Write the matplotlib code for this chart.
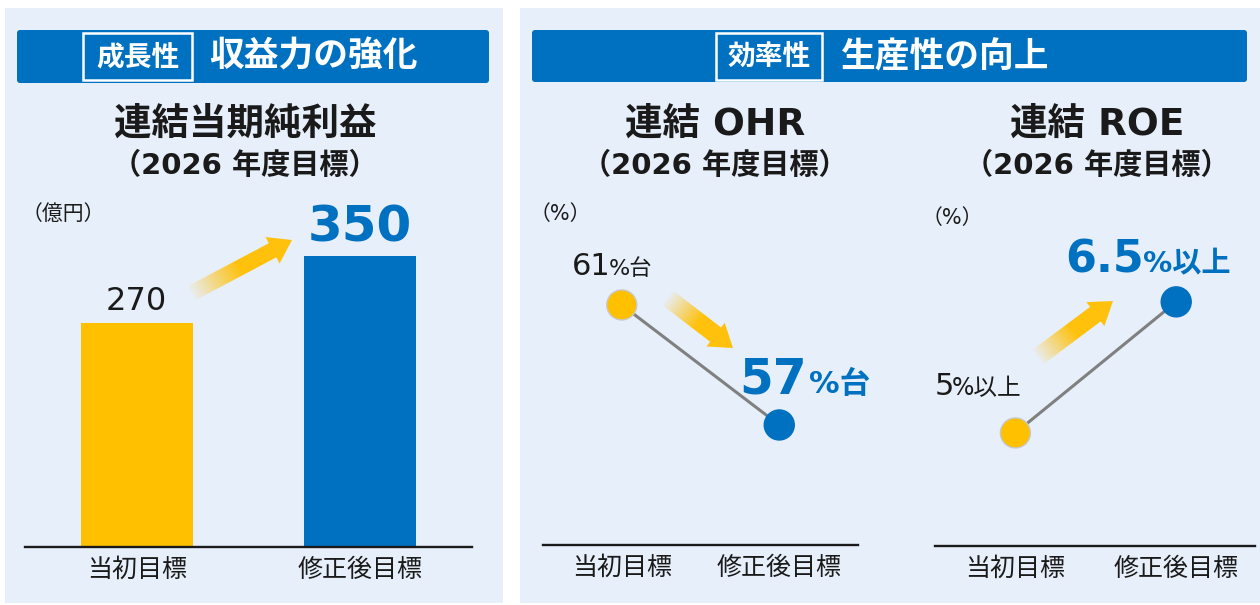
import numpy as np
import matplotlib
matplotlib.use('Agg')
import matplotlib.pyplot as plt
from matplotlib.patches import Rectangle, FancyBboxPatch, FancyArrow

# ============================= DATOS =================================
categorias = ['当初目標', '修正後目標']
utilidad = [270, 350]      # 億円
ohr = [61, 57]             # %
roe = [5, 6.5]             # %
sufijo_ohr = '%台'
sufijo_roe = '%以上'

# ============================= ESTILO =================================
AMARILLO = '#FFC000'
AZUL = '#0070C0'
FONDO = '#E7EFFA'
NEGRO = '#1A1A1A'
GRIS = '#808080'

plt.rcParams['font.family'] = ['DejaVu Sans', 'Noto Sans CJK JP']

W, H = 1260, 605
fig = plt.figure(figsize=(12.6, 6.05), dpi=100)


def caja(x0, y0, x1, y1):
    # rectangulo en pixeles (origen arriba a la izquierda) -> fraccion de figura
    return [x0 / W, 1 - y1 / H, (x1 - x0) / W, (y1 - y0) / H]


# capa de fondo en coordenadas de pixel
bg = fig.add_axes([0, 0, 1, 1])
bg.set_xlim(0, W)
bg.set_ylim(H, 0)
bg.axis('off')

bg.add_patch(Rectangle((5, 8), 498, 595, color=FONDO, lw=0))
bg.add_patch(Rectangle((520, 8), 740, 595, color=FONDO, lw=0))

# barras de encabezado
bg.add_patch(FancyBboxPatch((17, 30), 472, 53, boxstyle='round,pad=0,rounding_size=3',
                            fc=AZUL, ec='none'))
bg.add_patch(FancyBboxPatch((532, 30), 715, 52, boxstyle='round,pad=0,rounding_size=3',
                            fc=AZUL, ec='none'))
bg.add_patch(Rectangle((83, 33), 109, 47, fill=False, ec='white', lw=1.8))
bg.add_patch(Rectangle((716, 33), 106, 47, fill=False, ec='white', lw=1.8))
bg.text(137.5, 57, '成長性', color='white', fontsize=20, fontweight='bold', ha='center', va='center')
bg.text(209, 57, '収益力の強化', color='white', fontsize=25, fontweight='bold', ha='left', va='center')
bg.text(769, 57, '効率性', color='white', fontsize=20, fontweight='bold', ha='center', va='center')
bg.text(841, 57, '生産性の向上', color='white', fontsize=25, fontweight='bold', ha='left', va='center')

# titulos
titulos = [(245, '連結当期純利益'), (715, '連結 OHR'), (1097, '連結 ROE')]
for xc, t in titulos:
    bg.text(xc, 125, t, fontsize=27, fontweight='bold', color=NEGRO, ha='center', va='center')
    bg.text(xc, 166, '（2026 年度目標）', fontsize=21, fontweight='bold', color=NEGRO, ha='center', va='center')

bg.text(22, 214, '（億円）', fontsize=15, color=NEGRO, ha='left', va='center')
bg.text(530, 214, '（%）', fontsize=15, color=NEGRO, ha='left', va='center')
bg.text(922, 218, '（%）', fontsize=15, color=NEGRO, ha='left', va='center')


def flecha(ax, x0, y0, x1, y1, ancho=16, cabeza=30, largo_cabeza=22):
    # flecha con degradado (transparente en la cola)
    dx, dy = x1 - x0, y1 - y0
    arr = FancyArrow(x0, y0, dx, dy, width=ancho, head_width=cabeza, head_length=largo_cabeza,
                     length_includes_head=True, fc='none', ec='none')
    ax.add_patch(arr)
    xs = np.linspace(min(x0, x1) - cabeza, max(x0, x1) + cabeza, 200)
    ys = np.linspace(min(y0, y1) - cabeza, max(y0, y1) + cabeza, 200)
    X, Y = np.meshgrid(xs, ys)
    t = ((X - x0) * dx + (Y - y0) * dy) / (dx ** 2 + dy ** 2)
    img = np.zeros((200, 200, 4))
    img[..., 0] = 1.0
    img[..., 1] = 0.76
    img[..., 2] = 0.05
    img[..., 3] = np.clip(0.05 + t / 0.5, 0, 1)
    im = ax.imshow(img, extent=(xs[0], xs[-1], ys[0], ys[-1]), origin='lower',
                   aspect='auto', interpolation='bilinear', zorder=2)
    im.set_clip_path(arr)


flecha(bg, 192, 293, 292, 240)
flecha(bg, 668, 298, 733, 348, ancho=18)
flecha(bg, 1038, 357, 1113, 301, ancho=18)
bg.set_xlim(0, W)
bg.set_ylim(H, 0)


def estilo(ax):
    ax.patch.set_alpha(0)
    for s in ['top', 'left', 'right']:
        ax.spines[s].set_visible(False)
    ax.spines['bottom'].set_linewidth(1.7)
    ax.spines['bottom'].set_color(NEGRO)
    ax.set_yticks([])
    ax.set_xticks(range(len(categorias)))
    ax.set_xticklabels(categorias, fontsize=18, color=NEGRO)
    ax.tick_params(axis='x', length=0, pad=8)
    ax.set_xlim(-0.5, 1.5)


# ============================= UTILIDAD =================================
ax1 = fig.add_axes(caja(25, 190, 472, 547))
estilo(ax1)
ax1.bar(range(len(utilidad)), utilidad, width=0.5, color=[AMARILLO, AZUL])
ax1.set_ylim(0, 430)
ax1.annotate(f'{utilidad[0]}', xy=(0, utilidad[0]), xytext=(0, 9), textcoords='offset points',
             ha='center', va='baseline', fontsize=23, color=NEGRO)
ax1.annotate(f'{utilidad[1]}', xy=(1, utilidad[1]), xytext=(0, 11), textcoords='offset points',
             ha='center', va='baseline', fontsize=36, fontweight='bold', color=AZUL)


def etiqueta(ax, x, y, numero, sufijo, dx, dy, dsuf, fn, fs, color, peso):
    ax.annotate(numero, xy=(x, y), xytext=(dx, dy), textcoords='offset points',
                ha='right', va='baseline', fontsize=fn, color=color, fontweight=peso)
    ax.annotate(sufijo, xy=(x, y), xytext=(dx + dsuf, dy), textcoords='offset points',
                ha='left', va='baseline', fontsize=fs, color=color, fontweight=peso)


def linea(ax, valores):
    ax.plot(range(len(valores)), valores, color=GRIS, lw=2.2, zorder=2)
    ax.scatter(range(len(valores)), valores, s=21.6 ** 2, c=[AMARILLO, AZUL],
               edgecolors=['#C8C8C8', AZUL], linewidths=1, zorder=3, clip_on=False)


# ============================= OHR =================================
ax2 = fig.add_axes(caja(543, 190, 858, 545))
estilo(ax2)
linea(ax2, ohr)
ax2.set_ylim(53, 64.83)
etiqueta(ax2, 0, ohr[0], f'{ohr[0]:g}', sufijo_ohr, -8.0, 21.6, -1.5, 22, 16, NEGRO, 'normal')
etiqueta(ax2, 1, ohr[1], f'{ohr[1]:g}', sufijo_ohr, 20.0, 23, 1.5, 35, 22, AZUL, 'bold')

# ============================= ROE =================================
ax3 = fig.add_axes(caja(935, 190, 1255, 546))
estilo(ax3)
linea(ax3, roe)
ax3.set_xlim(-0.5, 1.49)
ax3.set_ylim(3.706, 7.78)
etiqueta(ax3, 0, roe[0], f'{roe[0]:g}', sufijo_roe, -44.0, 27.4, -1.5, 22, 17, NEGRO, 'normal')
etiqueta(ax3, 1, roe[1], f'{roe[1]:g}', sufijo_roe, -23.0, 20.9, -1.0, 32, 21, AZUL, 'bold')

fig.savefig('out.png', dpi=100, facecolor='white')
